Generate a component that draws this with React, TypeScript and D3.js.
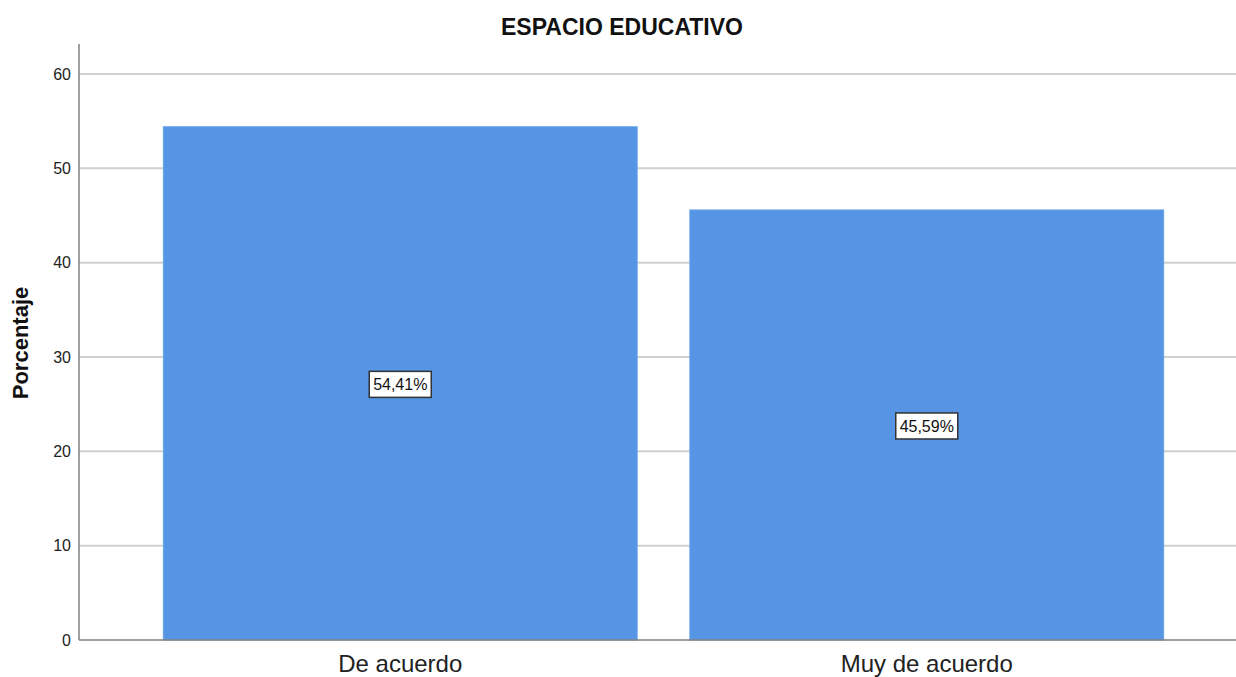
import React, { useRef, useEffect } from "react";
import * as d3 from "d3";

const categories = ["De acuerdo", "Muy de acuerdo"];
const values = [54.41, 45.59];
const valueLabels = ["54,41%", "45,59%"];
const yTicks = [0, 10, 20, 30, 40, 50, 60];

const width = 1236;
const height = 677;
const margin = { top: 44, right: 0, bottom: 37, left: 79 };
const barColor = "#5595e4";
const font = "'Liberation Sans', Arial, sans-serif";

const App = () => {
  const ref = useRef<SVGSVGElement>(null);

  useEffect(() => {
    const svg = d3.select(ref.current);
    svg.selectAll("*").remove();

    const y0 = height - margin.bottom; // 640
    const yScale = d3
      .scaleLinear()
      .domain([0, 60])
      .range([y0, 74]);

    const xScale = d3
      .scaleBand()
      .domain(categories)
      .range([137, 1190])
      .paddingInner(0.1)
      .paddingOuter(0.05);

    // gridlines
    svg
      .append("g")
      .selectAll("line")
      .data(yTicks.filter((t) => t > 0))
      .enter()
      .append("line")
      .attr("x1", margin.left)
      .attr("x2", width)
      .attr("y1", (d) => yScale(d))
      .attr("y2", (d) => yScale(d))
      .attr("stroke", "#d0d0d0")
      .attr("stroke-width", 2);

    // bars
    svg
      .append("g")
      .selectAll("rect")
      .data(values)
      .enter()
      .append("rect")
      .attr("x", (d, i) => xScale(categories[i])!)
      .attr("width", xScale.bandwidth())
      .attr("y", (d) => yScale(d))
      .attr("height", (d) => y0 - yScale(d))
      .attr("fill", barColor)
      .attr("stroke", "#6aa4ea")
      .attr("stroke-width", 1);

    // y axis
    svg
      .append("line")
      .attr("x1", margin.left)
      .attr("x2", margin.left)
      .attr("y1", margin.top)
      .attr("y2", y0)
      .attr("stroke", "#808080")
      .attr("stroke-width", 1.5);

    // x axis
    svg
      .append("line")
      .attr("x1", margin.left)
      .attr("x2", width)
      .attr("y1", y0)
      .attr("y2", y0)
      .attr("stroke", "#808080")
      .attr("stroke-width", 1.5);

    svg
      .append("g")
      .selectAll("text")
      .data(yTicks)
      .enter()
      .append("text")
      .attr("x", 71)
      .attr("y", (d) => yScale(d))
      .attr("dy", "0.35em")
      .attr("text-anchor", "end")
      .attr("font-family", font)
      .attr("font-size", 16)
      .attr("fill", "#222")
      .text((d) => d);

    svg
      .append("g")
      .selectAll("text")
      .data(categories)
      .enter()
      .append("text")
      .attr("x", (d) => xScale(d)! + xScale.bandwidth() / 2)
      .attr("y", 672)
      .attr("text-anchor", "middle")
      .attr("font-family", font)
      .attr("font-size", 24)
      .attr("fill", "#222")
      .text((d) => d);

    // value labels
    const lab = svg
      .append("g")
      .selectAll("g")
      .data(values)
      .enter()
      .append("g")
      .attr(
        "transform",
        (d, i) =>
          `translate(${xScale(categories[i])! + xScale.bandwidth() / 2},${yScale(d / 2)})`
      );
    lab
      .append("rect")
      .attr("x", -31)
      .attr("y", -12)
      .attr("width", 62)
      .attr("height", 26)
      .attr("fill", "#fff")
      .attr("stroke", "#333")
      .attr("stroke-width", 1.5);
    lab
      .append("text")
      .attr("y", 1)
      .attr("dy", "0.35em")
      .attr("text-anchor", "middle")
      .attr("font-family", font)
      .attr("font-size", 16)
      .attr("fill", "#111")
      .text((d, i) => valueLabels[i]);

    // title
    svg
      .append("text")
      .attr("x", 622)
      .attr("y", 35)
      .attr("text-anchor", "middle")
      .attr("font-family", font)
      .attr("font-size", 23)
      .attr("font-weight", "bold")
      .attr("fill", "#111")
      .text("ESPACIO EDUCATIVO");

    svg
      .append("text")
      .attr("transform", `translate(28,${(margin.top + y0) / 2 + 1}) rotate(-90)`)
      .attr("text-anchor", "middle")
      .attr("font-family", font)
      .attr("font-size", 22)
      .attr("font-weight", "bold")
      .attr("fill", "#111")
      .text("Porcentaje");
  }, []);

  return (
    <svg
      ref={ref}
      width={width}
      height={height}
      style={{ position: "absolute", left: 0, top: 0, background: "#fff" }}
    ></svg>
  );
};

export default App;
